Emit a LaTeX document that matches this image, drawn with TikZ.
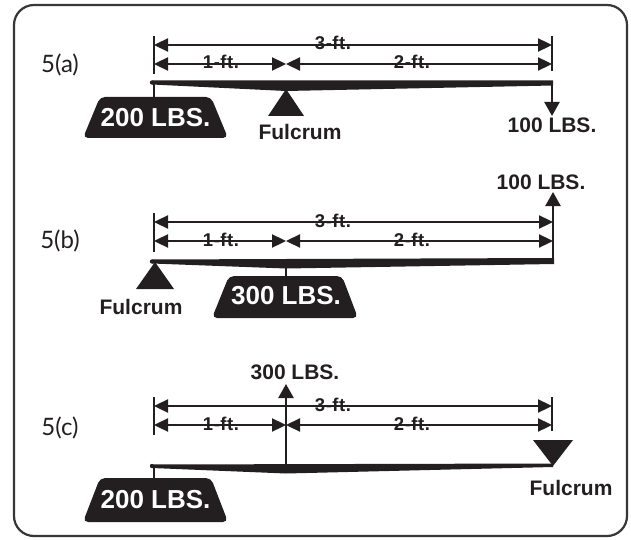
\documentclass[tikz,border=0pt]{standalone}
\usepackage{fontspec}
\setmainfont{Liberation Sans}
\newfontfamily\panelfont{Lato}
\newfontfamily\dimfont[LetterSpace=3]{Liberation Sans}
\usetikzlibrary{arrows.meta}
\definecolor{ink}{HTML}{231F20}
\tikzset{
  frame/.style={draw=ink!90, line width=2.2pt, rounded corners=20pt},
  tick/.style={draw=ink, line width=2.2pt},
  dim/.style={draw=ink, line width=2.3pt, {Triangle[length=14pt,width=13pt]}-{Triangle[length=14pt,width=13pt]}},
  force/.style={draw=ink, line width=2.4pt, -{Triangle[length=14pt,width=15pt]}},
  hanger/.style={draw=ink, line width=2.2pt},
  beam/.style={fill=ink},
  fulcrumtri/.style={fill=ink},
  weightbox/.style={fill=ink, rounded corners=5pt},
  dimtxt/.style={inner sep=0pt, anchor=base, font=\dimfont\fontsize{18.5}{18.5}\selectfont\bfseries, text=ink},
  lbl/.style={inner sep=0pt, font=\fontsize{21}{21}\selectfont\bfseries, text=ink},
  wtxt/.style={inner sep=0pt, font=\fontsize{26}{26}\selectfont\bfseries, text=white},
  panellbl/.style={inner sep=0pt, font=\panelfont\fontsize{24}{24}\selectfont, text=ink},
}
\begin{document}
\begin{tikzpicture}[x=1pt,y=-1pt]
\useasboundingbox (0,0) rectangle (631,540);
\draw[frame] (14,5) rectangle (627,536);

% ---------------- Panel (a) ----------------
\node[panellbl] (labA) at (60,65) {5(a)};
\coordinate (aTL1) at (154,36); \coordinate (aTL2) at (154,74);
\coordinate (aTR1) at (552,36); \coordinate (aTR2) at (552,71);
\draw[tick] (aTL1) -- (aTL2);
\draw[tick] (aTR1) -- (aTR2);
\coordinate (a3L) at (154,45); \coordinate (a3R) at (552,45);
\coordinate (a1L) at (154,64); \coordinate (aMid) at (286,64); \coordinate (a2R) at (552,64);
\draw[dim] (a3L) -- (a3R);
\draw[dim] (a1L) -- (aMid);
\draw[dim] (aMid) -- (a2R);
\node[dimtxt] (a3t) at (333,50) {3-ft.};
\node[dimtxt] (a1t) at (221,69) {1-ft.};
\node[dimtxt] (a2t) at (412,69) {2-ft.};
% beam
\fill[beam] (152,80.5) -- (553,80.5) -- (553,85.5) -- (286,91) -- (152,84.5) -- cycle;
\fill[beam] (152,82.5) circle (2.2);
\coordinate (aBR) at (552,82);
\coordinate (aDown) at (552,116);
\draw[force] (aBR) -- (aDown);
\node[lbl] (a100) at (552,125) {100 LBS.};
% fulcrum
\fill[fulcrumtri] (286,89) -- (304,116) -- (268,116) -- cycle;
\node[lbl] (aFul) at (300,132) {Fulcrum};
% weight
\coordinate (aH1) at (154,83); \coordinate (aH2) at (154,98);
\draw[hanger] (aH1) -- (aH2);
\fill[weightbox] (100,97) -- (211,97) -- (228,138) -- (83,138) -- cycle;
\node[wtxt] (aW) at (155.5,117.5) {200 LBS.};

% ---------------- Panel (b) ----------------
\node[panellbl] (labB) at (60,241) {5(b)};
\coordinate (bTL1) at (154,213); \coordinate (bTL2) at (154,252);
\draw[tick] (bTL1) -- (bTL2);
\coordinate (b3L) at (154,222); \coordinate (b3R) at (553,222);
\coordinate (b1L) at (154,241); \coordinate (bMid) at (286,241); \coordinate (b2R) at (553,241);
\draw[dim] (b3L) -- (b3R);
\draw[dim] (b1L) -- (bMid);
\draw[dim] (bMid) -- (b2R);
\node[dimtxt] (b3t) at (333,227) {3-ft.};
\node[dimtxt] (b1t) at (221,246) {1-ft.};
\node[dimtxt] (b2t) at (412,246) {2-ft.};
% beam
\fill[beam] (152,259.5) -- (554.2,258) -- (554.2,264) -- (286,268.5) -- (152,263.5) -- cycle;
\fill[beam] (152,261.5) circle (2.2);
\coordinate (bBR) at (553,261);
\coordinate (bUp) at (553,192);
\draw[force] (bBR) -- (bUp);
\node[lbl] (b100) at (541,182) {100 LBS.};
% fulcrum
\fill[fulcrumtri] (155,262) -- (174,289) -- (136,289) -- cycle;
\node[lbl] (bFul) at (141,307) {Fulcrum};
% weight
\coordinate (bH1) at (286,266); \coordinate (bH2) at (286,277);
\draw[hanger] (bH1) -- (bH2);
\fill[weightbox] (229,276) -- (342,276) -- (358,318) -- (212,318) -- cycle;
\node[wtxt] (bW) at (286,296) {300 LBS.};

% ---------------- Panel (c) ----------------
\node[panellbl] (labC) at (60,428) {5(c)};
\coordinate (cTL1) at (154,397); \coordinate (cTL2) at (154,435);
\coordinate (cTR1) at (552,397); \coordinate (cTR2) at (552,431);
\draw[tick] (cTL1) -- (cTL2);
\draw[tick] (cTR1) -- (cTR2);
\coordinate (c3L) at (154,406); \coordinate (c3R) at (552,406);
\coordinate (c1L) at (154,425); \coordinate (cMid) at (286,425); \coordinate (c2R) at (552,425);
\draw[dim] (c3L) -- (c3R);
\draw[dim] (c1L) -- (cMid);
\draw[dim] (cMid) -- (c2R);
\node[dimtxt] (c3t) at (333,411) {3-ft.};
\node[dimtxt] (c1t) at (221,430) {1-ft.};
\node[dimtxt] (c2t) at (412,430) {2-ft.};
% beam
\fill[beam] (152,464.5) -- (553,463.5) -- (553,467) -- (286,473.5) -- (152,468) -- cycle;
\fill[beam] (152,466) circle (2.2);
\coordinate (cF1) at (286,466);
\coordinate (cUp) at (286,384);
\draw[force] (cF1) -- (cUp);
\node[lbl] (c300) at (295,372) {300 LBS.};
% fulcrum
\fill[fulcrumtri] (533,440) -- (573,440) -- (553,466) -- cycle;
\node[lbl] (cFul) at (571,488) {Fulcrum};
% weight
\coordinate (cH1) at (154,467); \coordinate (cH2) at (154,479);
\draw[hanger] (cH1) -- (cH2);
\fill[weightbox] (100,478) -- (211,478) -- (228,522) -- (83,522) -- cycle;
\node[wtxt] (cW) at (155.5,499.5) {200 LBS.};
\end{tikzpicture}
\end{document}
